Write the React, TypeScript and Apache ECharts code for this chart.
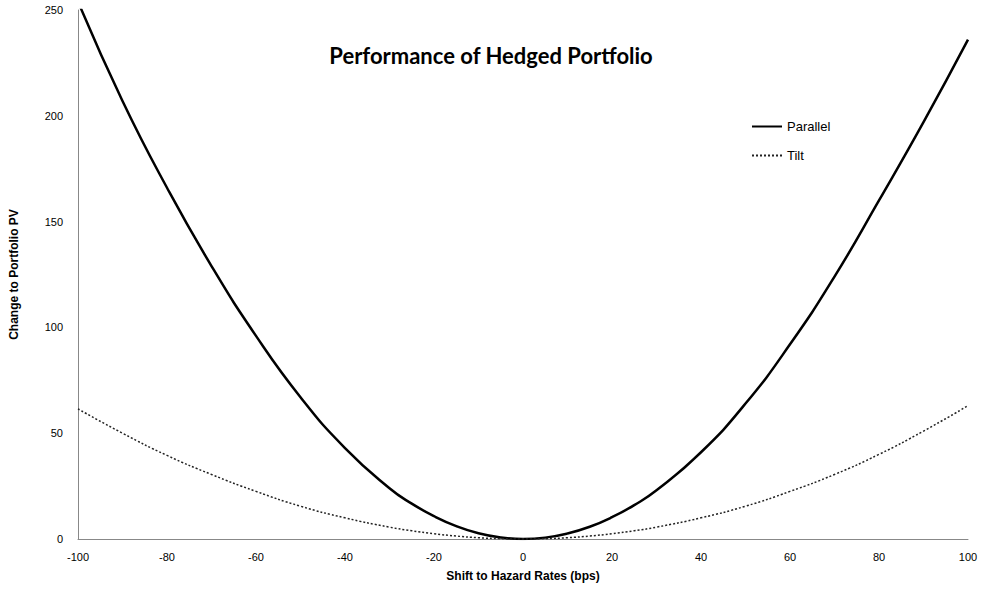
import React, { useEffect, useRef } from "react";
import * as echarts from "echarts";

const shifts = [-100, -90, -80, -70, -60, -50, -40, -30, -25, -20, -15, -10, -5, 0, 5, 10, 15, 20, 25, 30, 40, 50, 60, 70, 80, 90, 100];
const parallelValues = [254, 207, 166, 129, 96, 67, 43, 24, 16.7, 10.8, 6.1, 2.7, 0.68, 0, 0.65, 2.6, 5.8, 10.3, 16, 23, 41, 64, 92, 124, 160, 197, 236];
const tiltValues = [61.5, 50, 39.5, 30.5, 22.5, 15.5, 10, 5.6, 3.9, 2.5, 1.4, 0.6, 0.15, 0, 0.15, 0.6, 1.4, 2.5, 3.9, 5.6, 10, 15.5, 22.5, 30.5, 40, 51, 63];
const xTicks = { min: -100, max: 100, interval: 20 };
const yTicks = { min: 0, max: 250, interval: 50 };

export default function App() {
  const ref = useRef<HTMLDivElement>(null);
  useEffect(() => {
    if (!ref.current) return;
    const chart = echarts.init(ref.current, null, { renderer: "svg" });
    const font = "'Liberation Sans', Arial, sans-serif";
    chart.setOption({
      animation: false,
      backgroundColor: "#ffffff",
      title: {
        text: "Performance of Hedged Portfolio",
        left: "center",
        top: 39,
        textStyle: { fontFamily: "Lato, 'Open Sans', sans-serif", fontWeight: "bold", fontSize: 22, color: "#000" },
      },
      legend: {
        orient: "vertical",
        left: 746,
        top: 115,
        itemWidth: 30,
        itemHeight: 12,
        itemGap: 16,
        itemStyle: { opacity: 0 },
        textStyle: { fontFamily: font, fontSize: 13, color: "#000" },
        data: ["Parallel", "Tilt"],
      },
      grid: { left: 76, right: 14, top: 10, bottom: 53, containLabel: false },
      xAxis: {
        type: "value",
        min: xTicks.min,
        max: xTicks.max,
        interval: xTicks.interval,
        name: "Shift to Hazard Rates (bps)",
        nameLocation: "middle",
        nameGap: 31,
        nameTextStyle: { fontFamily: font, fontWeight: "bold", fontSize: 12, color: "#000" },
        axisLine: { show: true, onZero: false, lineStyle: { color: "#888", width: 1 } },
        axisTick: { show: false },
        splitLine: { show: false },
        axisLabel: { fontFamily: font, fontSize: 11, color: "#000", margin: 12 },
      },
      yAxis: {
        type: "value",
        min: yTicks.min,
        max: yTicks.max,
        interval: yTicks.interval,
        name: "Change to Portfolio PV",
        nameLocation: "middle",
        nameGap: 58,
        nameRotate: 90,
        nameTextStyle: { fontFamily: font, fontWeight: "bold", fontSize: 12, color: "#000" },
        axisLine: { show: true, onZero: false, lineStyle: { color: "#888", width: 1 } },
        axisTick: { show: false },
        splitLine: { show: false },
        axisLabel: { fontFamily: font, fontSize: 11, color: "#000", margin: 15 },
      },
      series: [
        {
          name: "Parallel",
          type: "line",
          smooth: 0.5,
          showSymbol: false,
          symbol: "none",
          clip: true,
          data: shifts.map((x, i) => [x, parallelValues[i]]),
          lineStyle: { color: "#000", width: 2.5, type: "solid" },
          itemStyle: { color: "#000" },
        },
        {
          name: "Tilt",
          type: "line",
          smooth: 0.5,
          showSymbol: false,
          symbol: "none",
          clip: true,
          data: shifts.map((x, i) => [x, tiltValues[i]]),
          lineStyle: { color: "#222", width: 1.5, type: [2, 2] },
          itemStyle: { color: "#222" },
        },
      ],
    });
    return () => chart.dispose();
  }, []);
  return <div ref={ref} style={{ width: 982, height: 592, position: "absolute", left: 0, top: 0 }} />;
}
